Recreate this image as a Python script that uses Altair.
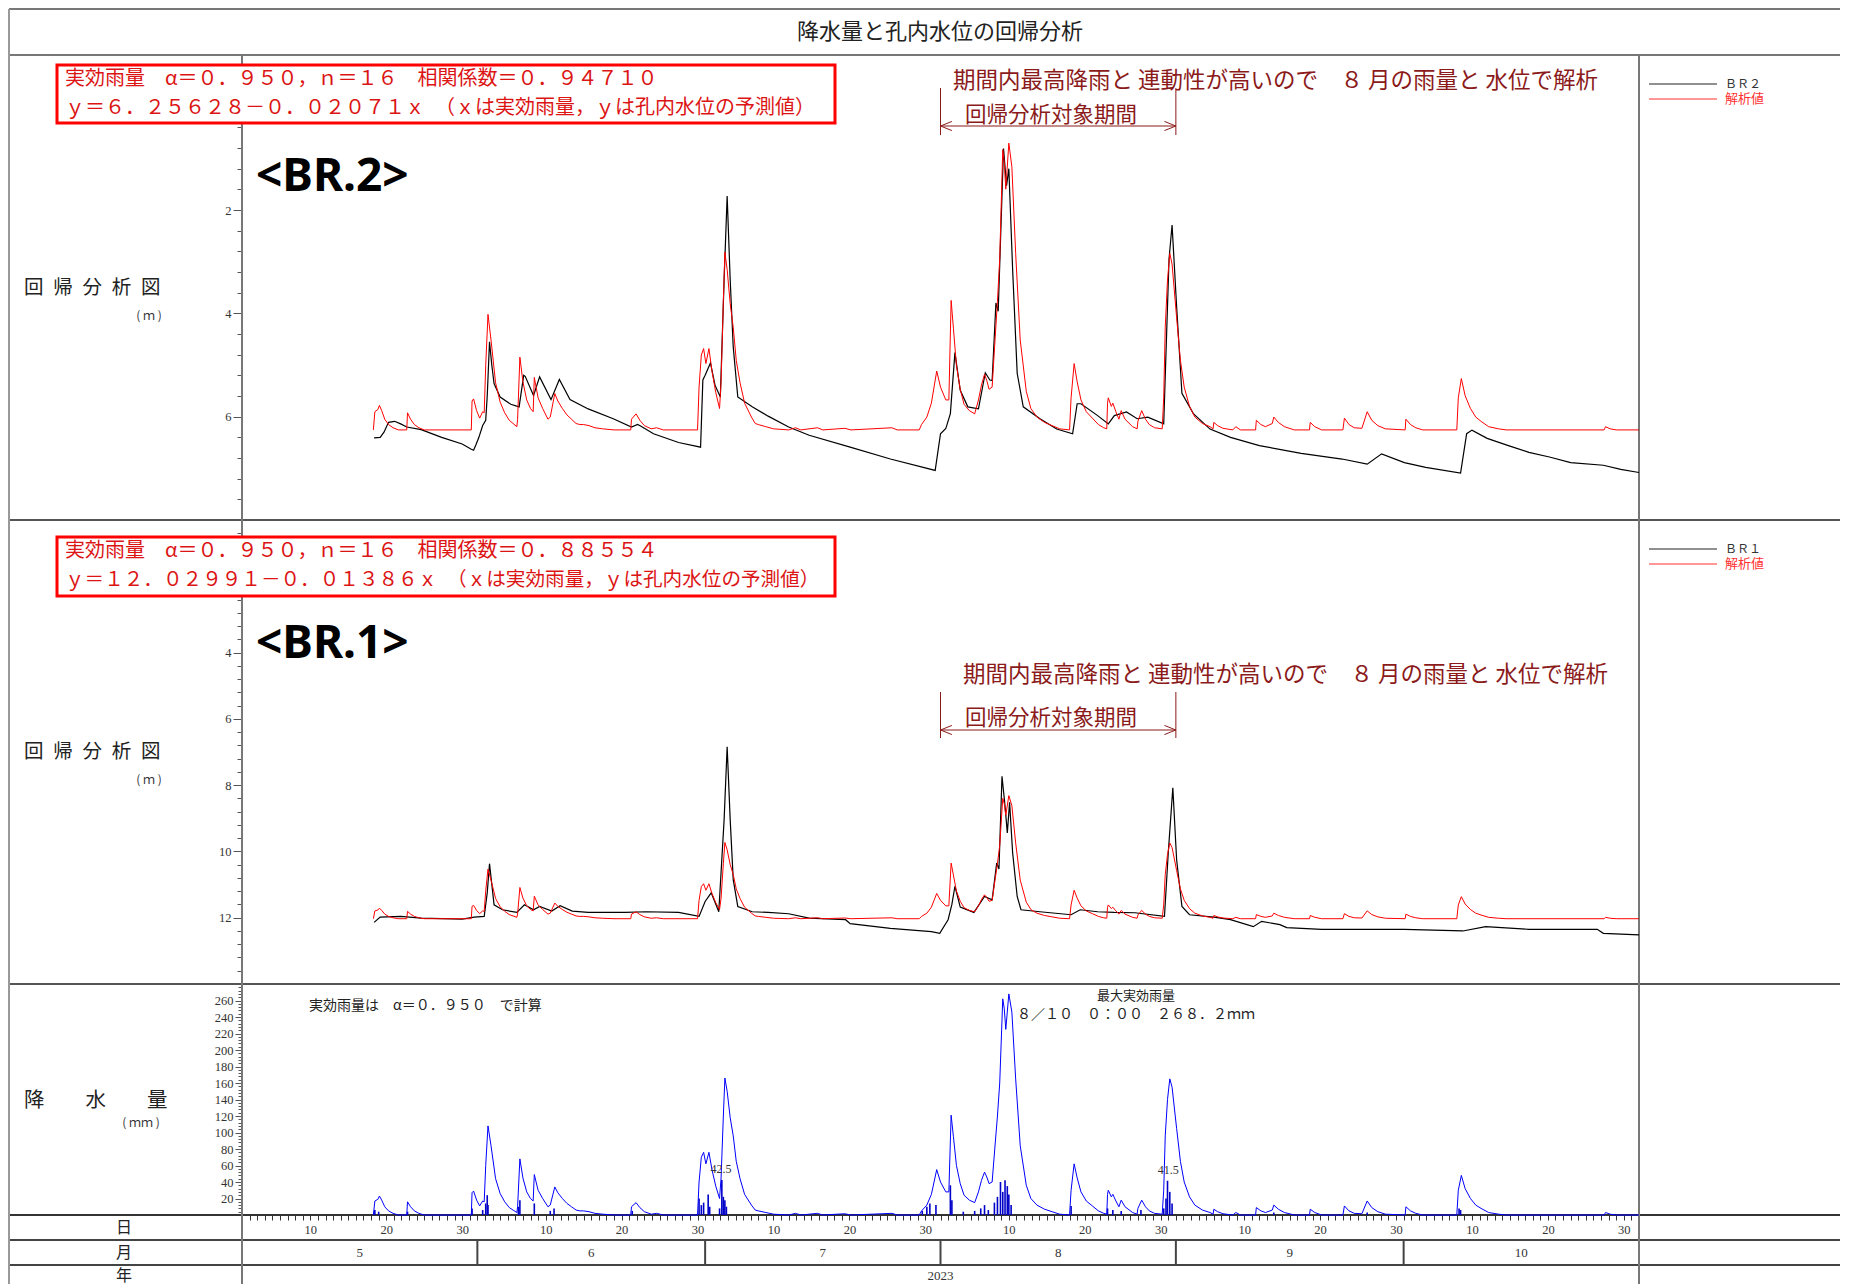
import altair as alt
import pandas as pd

# ---------------- data ----------------
# x = days since 2023-05-01 00:00 (Jun 1 = 31, Jul 1 = 61, Aug 1 = 92, Sep 1 = 123, Oct 1 = 153, Nov 1 = 184)

# effective rainfall (blue line, mm)
rain_day = [17.3, 17.5, 17.9, 18.1, 18.4, 18.8, 19.3, 19.9, 20.6,
            21.7, 21.8, 22.2, 22.7, 23.3, 24.0,
            30.2, 30.3, 30.5, 30.9, 31.3, 31.7, 31.9, 32.1, 32.4, 32.8, 33.4, 34.0, 34.6, 35.2, 35.7, 36.2,
            36.3, 36.6, 37.0, 37.5, 38.0, 38.35, 38.5, 39.0, 39.6, 40.3, 40.6, 41.2, 41.6, 42.2, 42.8, 43.4,
            44.0, 44.5, 45.0, 45.7, 46.5, 47.5, 49.0,
            51.2, 51.3, 51.9, 52.4, 53.0, 53.9, 54.6, 55.5,
            60.0, 60.2, 60.5, 60.8, 61.1, 61.5, 61.9, 62.4, 62.9, 63.1, 63.4, 63.6, 63.9, 64.3, 64.7, 65.1,
            65.6, 66.2, 67.1, 67.6, 68.0, 69.0, 70.0, 72.0, 72.9, 73.6, 75.8, 76.5, 79.4, 80.2, 85.6, 86.3,
            89.2, 89.5, 90.2, 90.8, 91.5, 92.0, 92.7, 93.1, 93.4, 93.7, 94.1, 94.6, 95.1, 95.8, 96.5, 97.0,
            97.4, 97.8, 98.1, 98.4, 98.8, 99.2, 99.5, 99.8, 100.2, 100.4, 100.6, 101.0, 101.4, 101.9, 102.5,
            103.3, 103.9, 104.7, 105.7, 106.7, 107.7,
            109.0, 109.2, 109.6, 110.0, 110.5, 111.2, 112.0, 112.8, 113.5,
            113.9, 114.0, 114.1, 114.5, 114.7, 115.1, 115.5, 115.8, 116.3, 117.3, 117.9, 118.0, 118.5, 119.0,
            119.5, 120.2,
            121.2, 121.4, 121.6, 121.9, 122.2, 122.5, 123.1, 123.6, 124.1, 124.8, 125.5, 126.5, 127.5,
            127.9, 128.0, 128.5, 129.2, 130.5, 130.9, 131.5, 133.5, 133.6, 134.2, 134.8, 135.7, 135.9, 136.5,
            137.3, 138.6, 140.6, 140.7, 141.3, 142.2, 145.0, 145.2, 145.8, 146.5, 147.5, 148.2, 148.8, 149.6,
            150.6, 153.2, 153.3, 153.9, 154.6, 155.5,
            160.0, 160.2, 160.6, 161.1, 161.8, 162.5, 163.2, 164.2, 165.5, 166.5, 179.4, 179.6, 180.2, 181.0,
            184.0]
rain_mm = [0, 17, 19, 23, 18, 10, 5, 2, 0,
           0, 16, 10, 5, 2, 0,
           0, 27, 29, 18, 11, 17, 16, 60, 108, 84, 44, 26, 16, 9, 6, 3,
           10, 68, 45, 28, 20, 17, 49, 30, 20, 10, 12, 34, 27, 20, 14, 10,
           6, 5, 5, 4, 2, 1, 0,
           0, 10, 15, 9, 4, 1, 2, 0,
           0, 40, 70, 76, 62, 76, 55, 35, 20, 45, 120, 166, 150, 118, 96, 65,
           44, 25, 12, 6, 5, 3, 1, 0, 2, 0, 2, 0, 1.5, 0, 2, 0,
           0, 5, 12, 25, 55, 40, 28, 28, 121, 95, 60, 38, 24, 18, 15, 28,
           42, 52, 46, 38, 40, 86, 120, 160, 262, 250, 225, 268, 246, 165, 84,
           36, 20, 12, 7, 4, 1,
           0, 30, 62, 45, 28, 17, 11, 5, 2,
           1, 25, 30, 22, 25, 17, 10, 18, 10, 3, 1, 8, 18, 10,
           5, 2,
           1, 30, 96, 140, 165, 155, 105, 65, 40, 22, 12, 6, 3,
           1, 7, 4, 1.5, 0, 3, 0, 0, 9, 5, 3, 6, 12, 7,
           3, 0, 0, 7, 3, 0, 0, 11, 5, 2, 1.5, 17, 9, 4,
           1, 0, 10, 5, 2, 0,
           0, 30, 48, 32, 20, 12, 8, 3, 1, 0, 0, 3, 1, 0,
           0]

# hourly rainfall (dark blue bars, mm)
hourly_day = [17.5, 18.0, 21.8, 30.3, 31.7, 32.1, 32.3, 32.4, 36.4, 36.6, 38.5, 40.6, 41.1, 51.4,
              60.2, 60.5, 60.8, 61.4, 61.6, 62.9, 63.2, 63.4, 63.6, 63.8,
              89.6, 90.2, 90.6, 91.4, 93.3, 93.5, 95.0, 96.5, 97.3, 97.8, 98.3, 99.1, 99.5, 99.9,
              100.2, 100.5, 100.8, 101.0, 101.3, 109.2, 114.0, 114.7, 115.8, 118.4,
              121.4, 121.7, 121.9, 122.2, 122.5, 135.9, 148.2, 160.3, 160.5]
hourly_mm = [6, 4, 4, 8, 6, 14, 24, 12, 10, 18, 14, 5, 8, 5,
             20, 12, 15, 25, 10, 8, 42.5, 22, 18, 10,
             5, 10, 14, 12, 36, 18, 4, 5, 8, 12, 6, 15, 22, 40,
             28, 42, 35, 25, 12, 11, 8, 6, 5, 6,
             8, 20, 41.5, 28, 14, 3, 3, 8, 6]

# labelled maximum hourly rainfall
peak_day = [63.1, 122.0]
peak_mm = [42.5, 41.5]
peak_label = ["42.5", "41.5"]

# BR2 observed water level (m, depth)
br2_day = [17.4, 18.2, 18.7, 19.3, 20.1, 20.9, 21.7, 23.6, 26.3, 29.0, 30.2, 30.5, 30.8, 31.2, 31.7,
           32.1, 32.3, 32.6, 32.9, 33.2, 34.0, 35.4, 36.5, 37.1, 37.3, 38.4, 39.2, 40.7, 41.8, 43.2,
           45.6, 48.9, 51.3, 52.1, 52.5, 54.2, 57.5, 60.4, 60.7, 61.0, 61.7, 62.3, 63.0, 63.5, 63.9,
           64.3, 64.7, 65.3, 67.2, 69.3, 72.0, 74.7, 80.1, 85.4, 91.3, 92.0, 92.7, 93.3, 93.9, 94.6,
           95.6, 97.0, 97.9, 98.5, 98.8, 99.3, 99.6, 100.3, 100.7, 101.0, 101.5, 102.1, 102.9, 105.1,
           107.3, 109.4, 110.0, 110.5, 112.7, 114.1, 114.9, 116.5, 117.9, 119.3, 121.4, 121.7, 122.1,
           122.5, 123.1, 123.8, 125.3, 127.5, 130.2, 134.0, 139.5, 144.9, 148.2, 150.1, 153.1, 155.9,
           160.5, 161.3, 162.0, 164.0, 166.8, 169.5, 172.2, 175.0, 179.3, 181.6, 184.0]
br2_level = [6.41, 6.40, 6.30, 6.11, 6.09, 6.14, 6.20, 6.25, 6.40, 6.53, 6.63, 6.65, 6.55, 6.40, 6.17,
             6.07, 5.60, 4.55, 5.00, 5.36, 5.62, 5.76, 5.81, 5.20, 5.22, 5.59, 5.23, 5.67, 5.28, 5.67,
             5.85, 6.04, 6.20, 6.15, 6.18, 6.33, 6.50, 6.59, 5.29, 5.20, 4.96, 5.39, 5.62, 3.35, 1.73,
             3.35, 4.65, 5.62, 5.81, 5.99, 6.20, 6.36, 6.59, 6.82, 7.04, 6.33, 6.23, 5.94, 4.76, 5.49,
             5.81, 5.85, 5.15, 5.29, 5.30, 3.80, 3.96, 0.81, 1.53, 1.20, 3.15, 5.16, 5.81, 6.04,
             6.24, 6.33, 5.75, 5.75, 5.98, 6.14, 5.98, 5.91, 6.04, 6.01, 6.14, 4.77, 2.95,
             2.29, 3.87, 5.55, 5.94, 6.24, 6.40, 6.56, 6.71, 6.82, 6.92, 6.72, 6.89, 6.98,
             7.09, 6.33, 6.26, 6.42, 6.56, 6.69, 6.78, 6.89, 6.94, 7.02, 7.08]

# BR1 observed water level (m, depth)
br1_day = [17.4, 18.2, 20.9, 23.6, 29.0, 30.6, 31.9, 32.3, 32.6, 33.2, 34.3, 36.2, 37.2, 38.4, 39.2,
           40.8, 41.9, 43.5, 45.6, 50.5, 53.2, 57.5, 60.2, 61.0, 61.8, 62.8, 63.5, 63.9, 64.3, 64.7,
           65.3, 67.2, 69.3, 72.0, 74.7, 79.5, 80.1, 85.4, 90.8, 91.9, 93.0, 93.5, 93.9, 94.6, 96.4,
           97.8, 98.8, 99.4, 99.7, 100.1, 100.5, 100.8, 101.1, 101.5, 102.1, 102.6, 105.1, 109.2, 110.4,
           112.7, 114.9, 117.6, 121.5, 122.0, 122.6, 123.1, 123.8, 124.8, 128.0, 130.2, 133.2, 134.3,
           136.7, 137.6, 142.2, 147.7, 153.1, 160.8, 163.8, 169.5, 178.5, 179.3, 184.0]
br1_level = [12.14, 11.98, 11.96, 12.01, 12.04, 11.98, 11.96, 11.25, 10.37, 11.61, 11.76, 11.84, 11.61,
             11.76, 11.66, 11.80, 11.64, 11.80, 11.84, 11.84, 11.82, 11.84, 11.96, 11.51, 11.25, 11.82,
             9.04, 6.84, 9.04, 10.85, 11.66, 11.82, 11.84, 11.88, 12.01, 12.06, 12.18, 12.32, 12.42,
             12.47, 12.06, 11.60, 11.05, 11.68, 11.84, 11.36, 11.46, 10.35, 10.53, 7.73, 8.63, 9.44,
             8.52, 10.04, 11.36, 11.76, 11.82, 11.91, 11.76, 11.82, 11.84, 11.85, 11.96, 10.04, 8.08,
             10.25, 11.66, 11.91, 11.98, 12.06, 12.27, 12.11, 12.21, 12.30, 12.35, 12.35, 12.35, 12.40,
             12.27, 12.35, 12.35, 12.47, 12.52]

# regression  y = a - b * x  (x = effective rainfall)
BR2_A, BR2_B = 6.25628, 0.02071
BR1_A, BR1_B = 12.02991, 0.01386

month_names = ["5", "6", "7", "8", "9", "10"]
month_start = [0, 31, 61, 92, 123, 153]
month_end = [31, 61, 92, 123, 153, 184]
year_names = ["2023"]
year_start = [0]
year_end = [184]
analysis_start = [92]   # 8/1
analysis_end = [123]    # 9/1

# ---------------- frames ----------------
rain_df = pd.DataFrame({"day": rain_day, "mm": rain_mm})
hourly_df = pd.DataFrame({"day": hourly_day, "mm": hourly_mm})
peak_df = pd.DataFrame({"day": peak_day, "mm": peak_mm, "label": peak_label})
br2_df = pd.DataFrame({"day": br2_day, "level": br2_level})
br1_df = pd.DataFrame({"day": br1_day, "level": br1_level})
month_df = pd.DataFrame({"month": month_names, "start": month_start, "end": month_end})
month_df["mid"] = (month_df["start"] + month_df["end"]) / 2
year_df = pd.DataFrame({"year": year_names, "start": year_start, "end": year_end})
year_df["mid"] = (year_df["start"] + year_df["end"]) / 2
period_df = pd.DataFrame({"start": analysis_start, "end": analysis_end})
one = pd.DataFrame({"k": [0]})

SERIF = "Liberation Serif"
JP = "Noto Sans CJK JP"
W, H = 1397, 1160
MAROON = "#8b1a1a"
TXTRED = "#dc1414"

xs = alt.Scale(domain=[0, 184], nice=False, zero=False)
scA = alt.Scale(domain=[-1, 8], range=[0, 465], nice=False, zero=False)
scB = alt.Scale(domain=[0, 14], range=[465, 929], nice=False, zero=False)
scC = alt.Scale(domain=[0, 280], range=[1160, 929], nice=False, zero=False)


def y_axis(vals, step, lo, hi, major, minor):
    return alt.Axis(
        orient="left", values=vals, title=None, grid=False, domain=False,
        labelExpr=f"(datum.value % {step} == 0 && datum.value >= {lo} && datum.value <= {hi}) ? datum.value : ''",
        tickSize={"condition": {"test": f"datum.value % {step} == 0", "value": major}, "value": minor},
        tickColor="#555", tickWidth=1, labelFont=SERIF, labelFontSize=12.5, labelColor="#333",
        labelPadding=2, labelOverlap=False)


axA = y_axis([round(-0.8 + 0.4 * i, 1) for i in range(23)], 2, 2, 6, 9, 5)
axB = y_axis([round(0.4 * i, 1) for i in range(36)], 2, 4, 12, 9, 5)
axC = y_axis(list(range(0, 281, 4)), 20, 20, 260, 7, 4)

dom = "date(datetime(2023, 4, 1 + datum.value))"
x_axis = alt.Axis(values=list(range(0, 185)), title=None, grid=False, domain=False,
                  labelExpr=f"indexof([10, 20, 30], {dom}) >= 0 ? '' + {dom} : ''",
                  tickSize=5, tickColor="#333", labelFont=SERIF, labelFontSize=12.5,
                  labelColor="#333", labelPadding=3, labelOverlap=False, labelFlush=False,
                  labelAngle=0, orient="bottom")


def X(field):
    return alt.X(f"{field}:Q", scale=xs, axis=x_axis)


def hline(y, x1, x2, color="#555", w=2):
    return alt.Chart(one).mark_rule(color=color, strokeWidth=w).encode(
        x=alt.value(x1), x2=alt.value(x2), y=alt.value(y))


def vline(x, y1, y2, color="#777", w=2):
    return alt.Chart(one).mark_rule(color=color, strokeWidth=w).encode(
        x=alt.value(x), y=alt.value(y1), y2=alt.value(y2))


def txt(text, x, y, size, color="#222", font=JP, align="left", weight="normal"):
    return alt.Chart(one).mark_text(text=text, font=font, fontSize=size, color=color,
                                    align=align, baseline="middle", fontWeight=weight).encode(
        x=alt.value(x), y=alt.value(y))


layers = []
# table frame
L, R, T, B = -233, 1598, -46, 1229
layers += [hline(T, L, R, "#777"), hline(0, L, R, "#777"), hline(465, L, R, "#555"),
           hline(929, L, R, "#555"), hline(1160, L, R, "#333"), hline(1185, L, R, "#444"),
           hline(1210, L, R, "#444"),
           vline(L, T, B, "#999"), vline(0, 0, B, "#777"), vline(W, 0, B, "#777")]

# rain panel (carries the day axis)
layers.append(alt.Chart(hourly_df).mark_rule(color="#0000c8", strokeWidth=1.6).encode(
    x=X("day"), y=alt.Y("mm:Q", scale=scC, axis=None), y2=alt.datum(0)))
layers.append(alt.Chart(rain_df).mark_line(color="#0000ff", strokeWidth=1).encode(
    x=X("day"), y=alt.Y("mm:Q", scale=scC, axis=axC)))
layers.append(alt.Chart(peak_df).mark_text(font=SERIF, fontSize=12, color="#333", baseline="bottom",
                                           dy=-4).encode(
    x=X("day"), y=alt.Y("mm:Q", scale=scC, axis=None), text="label:N"))

# month separators & labels, year label
layers.append(alt.Chart(month_df).transform_filter("datum.start > 0").mark_rule(
    color="#444", strokeWidth=2).encode(x=X("start"), y=alt.value(1185), y2=alt.value(1210)))
layers.append(alt.Chart(month_df).mark_text(font=SERIF, fontSize=13, color="#333").encode(
    x=X("mid"), y=alt.value(1198), text="month:N"))
layers.append(alt.Chart(year_df).mark_text(font=SERIF, fontSize=13, color="#333").encode(
    x=X("mid"), y=alt.value(1221), text="year:N"))

# panel A (BR2)
layers.append(alt.Chart(br2_df).mark_line(color="black", strokeWidth=1.2).encode(
    x=X("day"), y=alt.Y("level:Q", scale=scA, axis=axA)))
layers.append(alt.Chart(rain_df).transform_calculate(level=f"{BR2_A} - {BR2_B} * datum.mm").mark_line(
    color="#ff0000", strokeWidth=1).encode(x=X("day"), y=alt.Y("level:Q", scale=scA, axis=None)))
# panel B (BR1)
layers.append(alt.Chart(br1_df).mark_line(color="black", strokeWidth=1.2).encode(
    x=X("day"), y=alt.Y("level:Q", scale=scB, axis=axB)))
layers.append(alt.Chart(rain_df).transform_calculate(level=f"{BR1_A} - {BR1_B} * datum.mm").mark_line(
    color="#ff0000", strokeWidth=1).encode(x=X("day"), y=alt.Y("level:Q", scale=scB, axis=None)))

# regression boxes
for (y0, y1) in [(10, 68), (482, 541)]:
    layers.append(alt.Chart(one).mark_rect(fill="white", stroke="#ff0000", strokeWidth=3).encode(
        x=alt.value(-185), x2=alt.value(593), y=alt.value(y0), y2=alt.value(y1)))
layers.append(txt("実効雨量　α＝０．９５０，ｎ＝１６　相関係数＝０．９４７１０", -177, 24, 20, TXTRED))
layers.append(txt("ｙ＝６．２５６２８－０．０２０７１ｘ　（ｘは実効雨量，ｙは孔内水位の予測値）", -177, 53, 20, TXTRED))
layers.append(txt("実効雨量　α＝０．９５０，ｎ＝１６　相関係数＝０．８８５５４", -177, 496, 20, TXTRED))
layers.append(txt("ｙ＝１２．０２９９１－０．０１３８６ｘ　（ｘは実効雨量，ｙは孔内水位の予測値）", -177, 525, 19.6, TXTRED))

# big panel labels
layers.append(txt("<BR.2>", 14, 122, 46, "black", "Noto Sans", weight="bold"))
layers.append(txt("<BR.1>", 14, 589, 46, "black", "Noto Sans", weight="bold"))

# analysis period annotations
for (tx, ty, py, ay, v0, v1) in [(711, 26, 61, 71, 33, 80), (721, 620, 664, 675, 637, 683)]:
    layers.append(txt("期間内最高降雨と 連動性が高いので　８ 月の雨量と 水位で解析", tx, ty, 22.5, MAROON))
    layers.append(txt("回帰分析対象期間", 723, py, 21.5, MAROON))
    layers.append(alt.Chart(period_df).mark_rule(color=MAROON, strokeWidth=1).encode(
        x=X("start"), x2="end:Q", y=alt.value(ay)))
    layers.append(alt.Chart(period_df).mark_rule(color=MAROON, strokeWidth=1).encode(
        x=X("start"), y=alt.value(v0), y2=alt.value(v1)))
    layers.append(alt.Chart(period_df).mark_rule(color=MAROON, strokeWidth=1).encode(
        x=X("end"), y=alt.value(v0), y2=alt.value(v1)))
    layers.append(alt.Chart(period_df).mark_point(shape="M1,-0.4L0,0L1,0.4", filled=False, size=520,
                                                  color=MAROON, strokeWidth=1, opacity=1).encode(
        x=X("start"), y=alt.value(ay)))
    layers.append(alt.Chart(period_df).mark_point(shape="M-1,-0.4L0,0L-1,0.4", filled=False, size=520,
                                                  color=MAROON, strokeWidth=1, opacity=1).encode(
        x=X("end"), y=alt.value(ay)))

# legends
for (ya, yb, name) in [(29, 44, "ＢＲ２"), (494, 509, "ＢＲ１")]:
    layers.append(hline(ya, 1407, 1475, "#222", 1.2))
    layers.append(hline(yb, 1407, 1475, "#ff3030", 1.2))
    layers.append(txt(name, 1483, ya, 12, "#333"))
    layers.append(txt("解析値", 1483, yb, 13, "#ff3030"))

# title and left labels
layers.append(txt("降水量と孔内水位の回帰分析", 698, -23, 22, "#222", align="center"))
sp = "\u2002"
layers.append(txt(sp.join("回帰分析図"), -218, 233, 19.5, "#222"))
layers.append(txt("( ｍ )", -93, 261, 12, "#333", align="center"))
layers.append(txt(sp.join("回帰分析図"), -218, 697, 19.5, "#222"))
layers.append(txt("( ｍ )", -93, 725, 12, "#333", align="center"))
layers.append(txt("降　　水　　量", -218, 1046, 20.5, "#222"))
layers.append(txt("( ｍｍ )", -101, 1068, 12, "#333", align="center"))
layers.append(txt("日", -118, 1173, 16, "#222", align="center"))
layers.append(txt("月", -118, 1198, 16, "#222", align="center"))
layers.append(txt("年", -118, 1221, 16, "#222", align="center"))

# rain panel notes
layers.append(txt("実効雨量は　α＝０．９５０　で計算", 67, 951, 14, "#222"))
layers.append(txt("最大実効雨量", 894, 941, 13, "#222", align="center"))
layers.append(txt("８／１０　０：００　２６８．２ｍｍ", 775, 960, 14, "#222"))

chart = alt.layer(*layers).properties(
    width=W, height=H, padding=0, background="white"
).resolve_scale(y="independent").configure_view(stroke=None)

chart.save("out.html", embed_options={"renderer": "svg", "actions": False})
